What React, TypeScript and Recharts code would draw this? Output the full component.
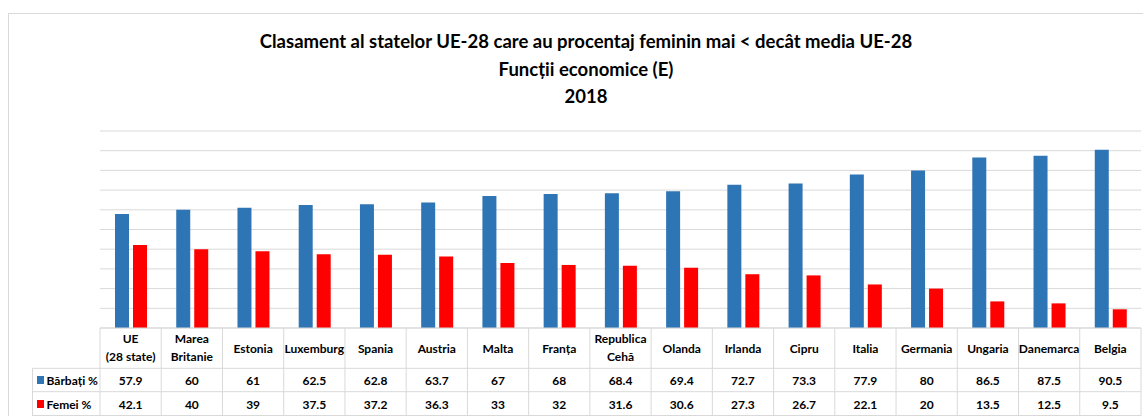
import React from "react";
import { BarChart, Bar, XAxis, YAxis, CartesianGrid } from "recharts";

const categories = [
  "UE\n(28 state)",
  "Marea\nBritanie",
  "Estonia",
  "Luxemburg",
  "Spania",
  "Austria",
  "Malta",
  "Franța",
  "Republica\nCehă",
  "Olanda",
  "Irlanda",
  "Cipru",
  "Italia",
  "Germania",
  "Ungaria",
  "Danemarca",
  "Belgia",
];
const barbati = [57.9, 60, 61, 62.5, 62.8, 63.7, 67, 68, 68.4, 69.4, 72.7, 73.3, 77.9, 80, 86.5, 87.5, 90.5];
const femei = [42.1, 40, 39, 37.5, 37.2, 36.3, 33, 32, 31.6, 30.6, 27.3, 26.7, 22.1, 20, 13.5, 12.5, 9.5];
const yTicks = [0, 10, 20, 30, 40, 50, 60, 70, 80, 90, 100];
const seriesNames = ["Bărbați %", "Femei %"];
const titleLines = [
  "Clasament al statelor UE-28 care au procentaj feminin mai < decât media UE-28",
  "Funcții economice (E)",
  "2018",
];

const data = categories.map((name, i) => ({
  name,
  barbati: barbati[i],
  femei: femei[i],
}));

const W = 1143;
const H = 416;
const LEFT = 100;
const RIGHT = 2;
const BASE = 328;
const ROW1 = 368.3;
const ROW2 = 391.7;
const ROW3 = 415.5;
const LEGEND_LEFT = 32.5;
const BLUE = "#2e75b6";
const RED = "#ff0000";
const LINE = "#d9d9d9";
const FONT = "Lato, 'Noto Sans', sans-serif";

const textStyle = {
  fontFamily: FONT,
  fontWeight: 700,
  fontSize: 12,
  fill: "#000",
};

function TableTick(props: any) {
  const { x, index } = props;
  const w = (W - LEFT - RIGHT) / categories.length;
  const left = x - w / 2;
  const right = x + w / 2;
  const lines = categories[index].split("\n");
  return (
    <g>
      {index === 0 && (
        <g>
          <line x1={left} x2={left} y1={BASE} y2={H} stroke={LINE} />
          <line x1={LEGEND_LEFT} x2={LEGEND_LEFT} y1={ROW1} y2={H} stroke={LINE} />
          <line x1={LEGEND_LEFT} x2={left} y1={ROW1} y2={ROW1} stroke={LINE} />
          <line x1={LEGEND_LEFT} x2={left} y1={ROW2} y2={ROW2} stroke={LINE} />
          <line x1={LEGEND_LEFT} x2={left} y1={ROW3} y2={ROW3} stroke={LINE} />
          <rect x={37} y={376} width={7} height={8} fill={BLUE} />
          <text x={46.5} y={384.5} style={textStyle}>
            {seriesNames[0]}
          </text>
          <rect x={37} y={400} width={7} height={8} fill={RED} />
          <text x={46.5} y={408.5} style={textStyle}>
            {seriesNames[1]}
          </text>
        </g>
      )}
      <line x1={right} x2={right} y1={BASE} y2={H} stroke={LINE} />
      <line x1={left} x2={right} y1={ROW1} y2={ROW1} stroke={LINE} />
      <line x1={left} x2={right} y1={ROW2} y2={ROW2} stroke={LINE} />
      <line x1={left} x2={right} y1={ROW3} y2={ROW3} stroke={LINE} />
      {lines.length === 1 ? (
        <text x={x} y={353} textAnchor="middle" style={textStyle}>
          {lines[0]}
        </text>
      ) : (
        lines.map((l, i) => (
          <text key={i} x={x} y={342.5 + i * 18} textAnchor="middle" style={textStyle}>
            {l}
          </text>
        ))
      )}
      <text x={x} y={384.5} textAnchor="middle" style={textStyle}>
        {barbati[index]}
      </text>
      <text x={x} y={408.5} textAnchor="middle" style={textStyle}>
        {femei[index]}
      </text>
    </g>
  );
}

export default function App() {
  return (
    <div
      style={{
        position: "fixed",
        left: 0,
        top: 0,
        width: W,
        height: H,
        overflow: "hidden",
        background: "#fff",
      }}
    >
      <div
        style={{
          position: "absolute",
          left: 8,
          top: 13,
          width: W - 8,
          height: H - 13,
          borderTop: `1px solid ${LINE}`,
          borderLeft: `1px solid ${LINE}`,
          boxSizing: "border-box",
        }}
      />
      <div
        style={{
          position: "absolute",
          left: 586,
          top: 28,
          transform: "translateX(-50%)",
          whiteSpace: "nowrap",
          textAlign: "center",
          fontFamily: FONT,
          fontWeight: 700,
          fontSize: 18.5,
          lineHeight: "27.5px",
          color: "#000",
        }}
      >
        {titleLines.map((t, i) => (
          <div key={i}>{t}</div>
        ))}
      </div>
      <div style={{ position: "absolute", left: 0, top: 0 }}>
        <BarChart
          width={W}
          height={H}
          data={data}
          margin={{ top: 131, right: RIGHT, left: LEFT, bottom: 0 }}
          barGap={4}
          barSize={14}
        >
          <CartesianGrid vertical={false} stroke={LINE} />
          <YAxis hide domain={[0, 100]} ticks={yTicks} interval={0} />
          <XAxis
            dataKey="name"
            height={H - BASE}
            interval={0}
            tickLine={false}
            axisLine={{ stroke: LINE }}
            tick={<TableTick />}
          />
          <Bar dataKey="barbati" fill={BLUE} isAnimationActive={false} />
          <Bar dataKey="femei" fill={RED} isAnimationActive={false} />
        </BarChart>
      </div>
    </div>
  );
}
